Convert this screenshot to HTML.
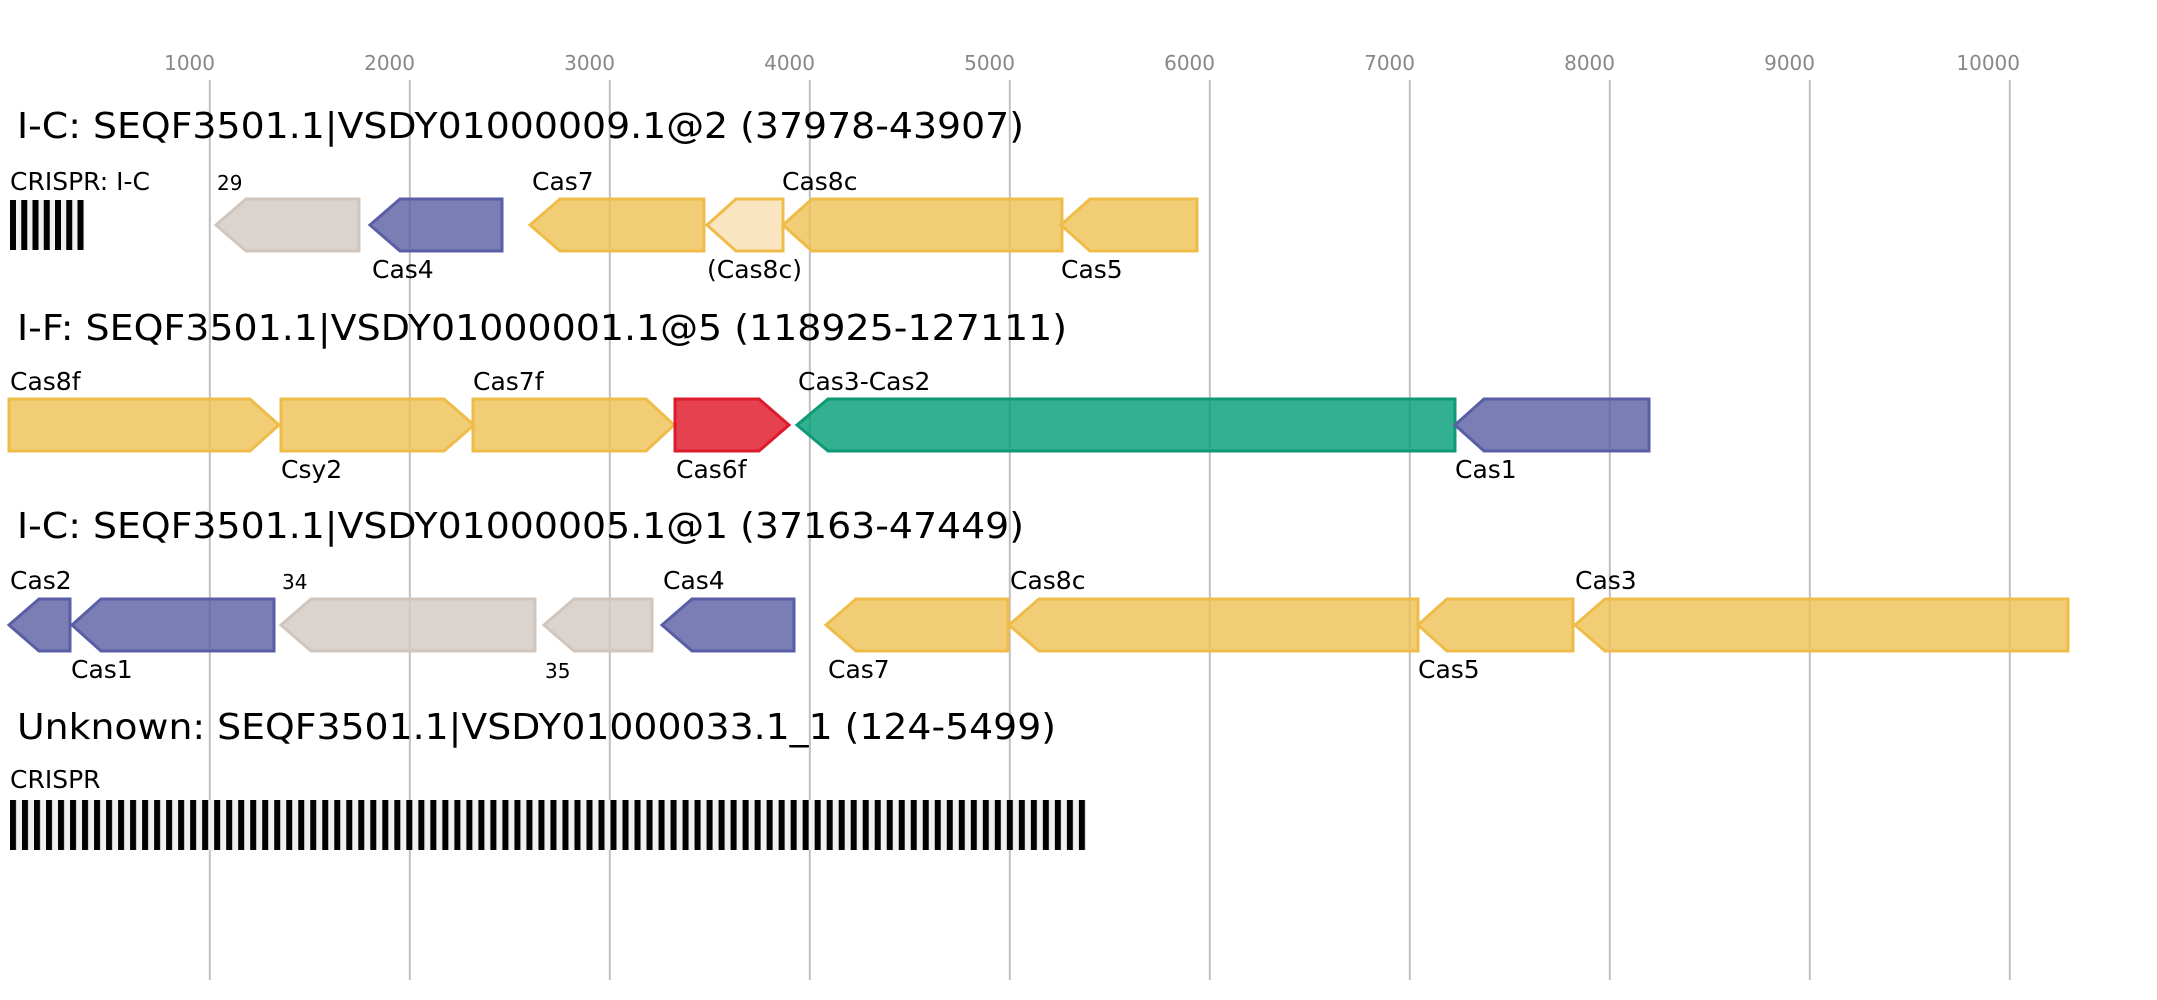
<!DOCTYPE html>
<html><head><meta charset="utf-8"><style>html,body{margin:0;padding:0;background:#fff}svg{display:block}</style></head><body>
<svg xmlns="http://www.w3.org/2000/svg" width="2157" height="1000" viewBox="0 0 2157 1000" font-family="DejaVu Sans, Liberation Sans, sans-serif">
<g stroke="#c0c0c0" stroke-width="2">
<line x1="209.8" y1="80" x2="209.8" y2="980"/><line x1="409.8" y1="80" x2="409.8" y2="980"/><line x1="609.8" y1="80" x2="609.8" y2="980"/><line x1="809.8" y1="80" x2="809.8" y2="980"/><line x1="1009.8" y1="80" x2="1009.8" y2="980"/><line x1="1209.8" y1="80" x2="1209.8" y2="980"/><line x1="1409.8" y1="80" x2="1409.8" y2="980"/><line x1="1609.8" y1="80" x2="1609.8" y2="980"/><line x1="1809.8" y1="80" x2="1809.8" y2="980"/><line x1="2009.8" y1="80" x2="2009.8" y2="980"/>
</g>
<g fill="#888" font-size="20" text-anchor="end">
<text x="215" y="70">1000</text><text x="415" y="70">2000</text><text x="615" y="70">3000</text><text x="815" y="70">4000</text><text x="1015" y="70">5000</text><text x="1215" y="70">6000</text><text x="1415" y="70">7000</text><text x="1615" y="70">8000</text><text x="1815" y="70">9000</text><text x="2020" y="70">10000</text>
</g>
<g fill="#000" font-size="36">
<text x="17" y="138" textLength="1007" lengthAdjust="spacingAndGlyphs">I-C: SEQF3501.1|VSDY01000009.1@2 (37978-43907)</text>
<text x="17" y="340" textLength="1050" lengthAdjust="spacingAndGlyphs">I-F: SEQF3501.1|VSDY01000001.1@5 (118925-127111)</text>
<text x="17" y="538" textLength="1007" lengthAdjust="spacingAndGlyphs">I-C: SEQF3501.1|VSDY01000005.1@1 (37163-47449)</text>
<text x="17" y="739" textLength="1039" lengthAdjust="spacingAndGlyphs">Unknown: SEQF3501.1|VSDY01000033.1_1 (124-5499)</text>
</g>
<g stroke-width="3" fill-opacity="0.8">
<polygon points="216,225 246,199 359,199 359,251 246,251" fill="#d2c8c2" stroke="#d2c6bc"/>
<polygon points="370,225 400,199 502,199 502,251 400,251" fill="#5a5ca2" stroke="#5a5ea6"/>
<polygon points="530,225 560,199 704,199 704,251 560,251" fill="#edc053" stroke="#efbc4a"/>
<polygon points="707,225 736,199 783,199 783,251 736,251" fill="#f9e5c0" stroke="#efbc4a" fill-opacity="1"/>
<polygon points="783,225 812,199 1062,199 1062,251 812,251" fill="#edc053" stroke="#efbc4a"/>
<polygon points="1061,225 1090,199 1197,199 1197,251 1090,251" fill="#edc053" stroke="#efbc4a"/>
<polygon points="9,399 250,399 279,425 250,451 9,451" fill="#edc053" stroke="#efbc4a"/>
<polygon points="281,399 444,399 474,425 444,451 281,451" fill="#edc053" stroke="#efbc4a"/>
<polygon points="473,399 646,399 674,425 646,451 473,451" fill="#edc053" stroke="#efbc4a"/>
<polygon points="675,399 759,399 789,425 759,451 675,451" fill="#e01123" stroke="#dc1c2c"/>
<polygon points="797,425 828,399 1455,399 1455,451 828,451" fill="#009c73" stroke="#0f9a77"/>
<polygon points="1455,425 1484,399 1649,399 1649,451 1484,451" fill="#5a5ca2" stroke="#5a5ea6"/>
<polygon points="9,625 39,599 70,599 70,651 39,651" fill="#5a5ca2" stroke="#5a5ea6"/>
<polygon points="72,625 101,599 274,599 274,651 101,651" fill="#5a5ca2" stroke="#5a5ea6"/>
<polygon points="281,625 311,599 535,599 535,651 311,651" fill="#d2c8c2" stroke="#d2c6bc"/>
<polygon points="544,625 574,599 652,599 652,651 574,651" fill="#d2c8c2" stroke="#d2c6bc"/>
<polygon points="662,625 692,599 794,599 794,651 692,651" fill="#5a5ca2" stroke="#5a5ea6"/>
<polygon points="826,625 856,599 1008,599 1008,651 856,651" fill="#edc053" stroke="#efbc4a"/>
<polygon points="1009,625 1039,599 1418,599 1418,651 1039,651" fill="#edc053" stroke="#efbc4a"/>
<polygon points="1418,625 1447,599 1573,599 1573,651 1447,651" fill="#edc053" stroke="#efbc4a"/>
<polygon points="1575,625 1605,599 2068,599 2068,651 1605,651" fill="#edc053" stroke="#efbc4a"/>
</g>
<rect x="10" y="200" width="74" height="50" fill="#f0f0f0"/>
<rect x="10" y="800" width="1076" height="50" fill="#f0f0f0"/>
<g font-size="25" fill="#000">
<text x="10" y="190">CRISPR: I-C</text>
<text x="217" y="190" font-size="20">29</text>
<text x="372" y="278">Cas4</text>
<text x="532" y="190">Cas7</text>
<text x="707" y="278">(Cas8c)</text>
<text x="782" y="190">Cas8c</text>
<text x="1061" y="278">Cas5</text>
<text x="10" y="390">Cas8f</text>
<text x="281" y="478">Csy2</text>
<text x="473" y="390">Cas7f</text>
<text x="676" y="478">Cas6f</text>
<text x="798" y="390">Cas3-Cas2</text>
<text x="1455" y="478">Cas1</text>
<text x="10" y="589">Cas2</text>
<text x="71" y="678">Cas1</text>
<text x="282" y="589" font-size="20">34</text>
<text x="545" y="678" font-size="20">35</text>
<text x="663" y="589">Cas4</text>
<text x="828" y="678">Cas7</text>
<text x="1010" y="589">Cas8c</text>
<text x="1418" y="678">Cas5</text>
<text x="1575" y="589">Cas3</text>
<text x="10" y="788">CRISPR</text>
</g>
<g fill="#000">
<rect x="10" y="200" width="6" height="50"/><rect x="21.25" y="200" width="6" height="50"/><rect x="32.5" y="200" width="6" height="50"/><rect x="43.75" y="200" width="6" height="50"/><rect x="55" y="200" width="6" height="50"/><rect x="66.25" y="200" width="6" height="50"/><rect x="77.5" y="200" width="6" height="50"/>
</g>
<defs><pattern id="bp" x="10" y="0" width="12.01" height="1000" patternUnits="userSpaceOnUse"><rect x="0" y="0" width="6" height="1000" fill="#000"/></pattern></defs>
<rect x="10" y="800" width="1076" height="50" fill="url(#bp)"/>
</svg>
</body></html>
